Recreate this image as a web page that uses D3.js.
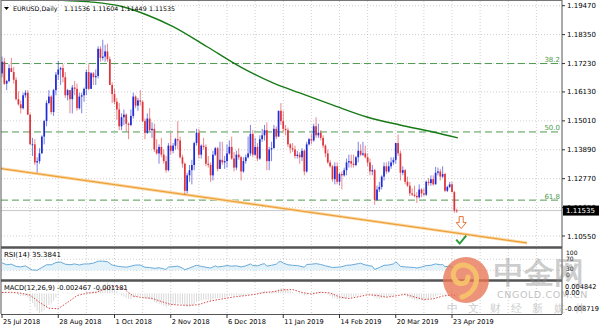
<!DOCTYPE html>
<html><head><meta charset="utf-8">
<script src="https://cdn.jsdelivr.net/npm/d3@7"></script>
<style>body{margin:0;background:#fff}svg{display:block}text{font-family:"DejaVu Sans",sans-serif}</style>
</head><body><svg id="c" width="600" height="327"></svg>
<script>
// ---------- DATA (EURUSD daily, 25 Jul 2018 .. 25 Apr 2019) ----------
const opens=[1.1685,1.1730,1.1645,1.1655,1.1705,1.1690,1.1660,1.1585,1.1565,1.1550,1.1600,1.1610,1.1525,1.1410,1.1410,1.1340,1.1345,1.1375,1.1440,1.1500,1.1570,1.1595,1.1535,1.1620,1.1680,1.1700,1.1705,1.1670,1.1600,1.1620,1.1585,1.1630,1.1625,1.1550,1.1595,1.1600,1.1625,1.1690,1.1625,1.1685,1.1670,1.1675,1.1780,1.1745,1.1750,1.1770,1.1740,1.1640,1.1605,1.1575,1.1545,1.1480,1.1515,1.1525,1.1490,1.1485,1.1520,1.1595,1.1560,1.1580,1.1575,1.1500,1.1455,1.1510,1.1465,1.1470,1.1390,1.1375,1.1400,1.1370,1.1345,1.1310,1.1405,1.1385,1.1405,1.1430,1.1425,1.1360,1.1335,1.1230,1.1290,1.1310,1.1330,1.1415,1.1455,1.1370,1.1405,1.1400,1.1335,1.1330,1.1290,1.1370,1.1395,1.1315,1.1350,1.1340,1.1345,1.1375,1.1400,1.1355,1.1320,1.1370,1.1360,1.1305,1.1345,1.1360,1.1375,1.1450,1.1370,1.1400,1.1355,1.1430,1.1445,1.1465,1.1345,1.1390,1.1395,1.1470,1.1440,1.1540,1.1500,1.1470,1.1465,1.1410,1.1395,1.1390,1.1365,1.1370,1.1360,1.1385,1.1305,1.1410,1.1430,1.1425,1.1480,1.1445,1.1455,1.1435,1.1405,1.1375,1.1340,1.1325,1.1275,1.1325,1.1265,1.1295,1.1290,1.1310,1.1340,1.1345,1.1335,1.1330,1.1360,1.1385,1.1370,1.1375,1.1360,1.1340,1.1305,1.1310,1.1195,1.1235,1.1245,1.1285,1.1325,1.1305,1.1325,1.1340,1.1350,1.1415,1.1375,1.1300,1.1310,1.1265,1.1250,1.1220,1.1215,1.1210,1.1205,1.1235,1.1220,1.1215,1.1265,1.1260,1.1275,1.1255,1.1300,1.1305,1.1285,1.1295,1.1230,1.1245,1.1255,1.1225,1.11536];
const highs=[1.1750,1.1745,1.1660,1.1720,1.1745,1.1710,1.1670,1.1615,1.1580,1.1610,1.1620,1.1620,1.1530,1.1435,1.1430,1.1360,1.1395,1.1445,1.1505,1.1580,1.1620,1.1600,1.1625,1.1690,1.1733,1.1710,1.1720,1.1690,1.1625,1.1620,1.1640,1.1655,1.1645,1.1610,1.1610,1.1630,1.1700,1.1720,1.1690,1.1690,1.1700,1.1790,1.1790,1.1815,1.1795,1.1800,1.1750,1.1650,1.1625,1.1590,1.1570,1.1530,1.1545,1.1530,1.1495,1.1545,1.1610,1.1600,1.1590,1.1620,1.1580,1.1510,1.1530,1.1550,1.1495,1.1490,1.1430,1.1410,1.1435,1.1390,1.1365,1.1415,1.1455,1.1415,1.1435,1.1500,1.1440,1.1370,1.1340,1.1300,1.1330,1.1350,1.1420,1.1470,1.1470,1.1410,1.1435,1.1410,1.1365,1.1340,1.1385,1.1400,1.1400,1.1420,1.1420,1.1365,1.1410,1.1425,1.1440,1.1380,1.1385,1.1395,1.1365,1.1360,1.1370,1.1440,1.1485,1.1465,1.1435,1.1415,1.1445,1.1470,1.1485,1.1495,1.1400,1.1420,1.1485,1.1480,1.1540,1.1570,1.1540,1.1485,1.1475,1.1415,1.1415,1.1405,1.1385,1.1380,1.1395,1.1390,1.1420,1.1435,1.1450,1.1490,1.1515,1.1490,1.1465,1.1445,1.1410,1.1390,1.1350,1.1330,1.1340,1.1340,1.1300,1.1305,1.1320,1.1355,1.1370,1.1370,1.1370,1.1365,1.1420,1.1410,1.1420,1.1405,1.1375,1.1355,1.1330,1.1315,1.1250,1.1265,1.1290,1.1340,1.1340,1.1345,1.1360,1.1360,1.1415,1.1448,1.1385,1.1325,1.1315,1.1285,1.1265,1.1240,1.1250,1.1225,1.1255,1.1240,1.1240,1.1270,1.1280,1.1290,1.1290,1.1323,1.1320,1.1315,1.1325,1.1300,1.1250,1.1265,1.1265,1.1230,1.11604];
const lows=[1.1670,1.1640,1.1620,1.1650,1.1690,1.1645,1.1580,1.1560,1.1530,1.1545,1.1590,1.1525,1.1410,1.1365,1.1330,1.1301,1.1335,1.1375,1.1410,1.1480,1.1565,1.1525,1.1520,1.1600,1.1660,1.1640,1.1650,1.1590,1.1580,1.1530,1.1530,1.1600,1.1540,1.1545,1.1530,1.1575,1.1600,1.1620,1.1625,1.1640,1.1640,1.1665,1.1730,1.1735,1.1730,1.1730,1.1640,1.1570,1.1565,1.1505,1.1465,1.1465,1.1485,1.1460,1.1430,1.1480,1.1510,1.1550,1.1540,1.1560,1.1495,1.1430,1.1450,1.1460,1.1435,1.1380,1.1370,1.1335,1.1360,1.1335,1.1300,1.1305,1.1370,1.1375,1.1390,1.1390,1.1355,1.1320,1.1215,1.1220,1.1265,1.1255,1.1310,1.1405,1.1355,1.1355,1.1390,1.1325,1.1320,1.1265,1.1270,1.1365,1.1305,1.1315,1.1330,1.1315,1.1320,1.1370,1.1350,1.1305,1.1310,1.1350,1.1270,1.1300,1.1335,1.1355,1.1365,1.1360,1.1365,1.1345,1.1350,1.1420,1.1425,1.1310,1.1310,1.1345,1.1395,1.1430,1.1440,1.1485,1.1455,1.1445,1.1400,1.1375,1.1380,1.1355,1.1355,1.1335,1.1345,1.1290,1.1300,1.1405,1.1410,1.1420,1.1435,1.1435,1.1425,1.1395,1.1360,1.1335,1.1320,1.1265,1.1255,1.1255,1.1250,1.1235,1.1285,1.1290,1.1320,1.1320,1.1320,1.1325,1.1340,1.1365,1.1365,1.1355,1.1325,1.1290,1.1290,1.1176,1.1190,1.1225,1.1235,1.1270,1.1295,1.1300,1.1315,1.1330,1.1335,1.1365,1.1270,1.1290,1.1255,1.1245,1.1210,1.1210,1.1205,1.1183,1.1200,1.1205,1.1210,1.1210,1.1250,1.1250,1.1250,1.1255,1.1290,1.1270,1.1280,1.1225,1.1225,1.1240,1.1225,1.1145,1.11449];
const closes=[1.1730,1.1645,1.1655,1.1705,1.1690,1.1660,1.1585,1.1565,1.1550,1.1600,1.1610,1.1525,1.1410,1.1410,1.1340,1.1345,1.1375,1.1440,1.1500,1.1570,1.1595,1.1535,1.1620,1.1680,1.1700,1.1705,1.1670,1.1600,1.1620,1.1585,1.1630,1.1625,1.1550,1.1595,1.1600,1.1625,1.1690,1.1625,1.1685,1.1670,1.1675,1.1780,1.1745,1.1750,1.1770,1.1740,1.1640,1.1605,1.1575,1.1545,1.1480,1.1515,1.1525,1.1490,1.1485,1.1520,1.1595,1.1560,1.1580,1.1575,1.1500,1.1455,1.1510,1.1465,1.1470,1.1390,1.1375,1.1400,1.1370,1.1345,1.1310,1.1405,1.1385,1.1405,1.1430,1.1425,1.1360,1.1335,1.1230,1.1290,1.1310,1.1330,1.1415,1.1455,1.1370,1.1405,1.1400,1.1335,1.1330,1.1290,1.1370,1.1395,1.1315,1.1350,1.1340,1.1345,1.1375,1.1400,1.1355,1.1320,1.1370,1.1360,1.1305,1.1345,1.1360,1.1375,1.1450,1.1370,1.1400,1.1355,1.1430,1.1445,1.1465,1.1345,1.1390,1.1395,1.1470,1.1440,1.1540,1.1500,1.1470,1.1465,1.1410,1.1395,1.1390,1.1365,1.1370,1.1360,1.1385,1.1305,1.1410,1.1430,1.1425,1.1480,1.1445,1.1455,1.1435,1.1405,1.1375,1.1340,1.1325,1.1275,1.1325,1.1265,1.1295,1.1290,1.1310,1.1340,1.1345,1.1335,1.1330,1.1360,1.1385,1.1370,1.1375,1.1360,1.1340,1.1305,1.1310,1.1195,1.1235,1.1245,1.1285,1.1325,1.1305,1.1325,1.1340,1.1350,1.1415,1.1375,1.1300,1.1310,1.1265,1.1250,1.1220,1.1215,1.1210,1.1205,1.1235,1.1220,1.1215,1.1265,1.1260,1.1275,1.1255,1.1300,1.1305,1.1285,1.1295,1.1230,1.1245,1.1255,1.1225,1.11536,1.11535];

const priceTicks=[1.19470,1.18350,1.17230,1.16130,1.15010,1.13890,1.12770,1.11650,1.10550];
const priceTickLabels=["1.19470","1.18350","1.17230","1.16130","1.15010","1.13890","1.12770","1.11650","1.10550"];
const dateTickIdx=[0,24,48,72,96,120,144,168,192];
const dateTickLabels=["25 Jul 2018","28 Aug 2018","1 Oct 2018","2 Nov 2018","6 Dec 2018","11 Jan 2019","14 Feb 2019","20 Mar 2019","23 Apr 2019"];
const fibLevels=[1.1723,1.1458,1.1194];
const fibLabels=["38.2","50.0","61.8"];
const ma200=[[15,1.1975],[23.5,1.1969],[37.5,1.1962],[51.6,1.1943],[61.9,1.1911],[73,1.1866],[87.5,1.1788],[101.5,1.1711],[115.6,1.1648],[127,1.1609],[141.2,1.1562],[155.7,1.1516],[169.8,1.1485],[183.9,1.1458],[194.5,1.1435]];
const trendLine=[[-1,1.1317],[224,1.1028]];
const lastPrice=1.11535;
const headerSymbol="EURUSD,Daily";
const headerOHLC=["1.11536","1.11604","1.11449","1.11535"];

const rsiPoints=[[0,57],[2,50],[4,52],[6,44],[8,42],[10,46],[12,35],[13,31],[15,30],[17,40],[19,50],[21,50],[23,58],[25,60],[27,52],[29,50],[31,53],[33,49],[35,53],[37,53],[39,56],[41,63],[43,63],[45,61],[47,49],[49,45],[51,43],[53,41],[55,45],[57,49],[59,49],[61,41],[63,40],[65,37],[67,39],[69,35],[70,33],[71,42],[73,43],[75,45],[77,38],[78,32],[80,38],[82,45],[83,48],[85,44],[87,41],[89,38],[91,46],[92,42],[94,44],[96,47],[98,45],[100,46],[102,42],[104,46],[106,53],[107,47],[109,46],[111,52],[112,54],[113,45],[115,48],[117,52],[118,60],[119,62],[120,56],[122,50],[124,48],[126,47],[129,41],[130,51],[132,52],[134,54],[136,51],[138,46],[140,42],[141,40],[143,41],[145,43],[147,48],[149,49],[152,54],[153,56],[154,52],[156,47],[158,45],[159,33],[161,40],[163,48],[165,49],[167,53],[168,60],[169,54],[170,44],[172,42],[174,41],[176,40],[177,38],[179,42],[181,47],[183,48],[185,53],[187,50],[188,51],[189,43],[191,45],[192,42],[193,33],[194,35.38]];
const rsiLevels=[70,30];
const rsiTickVals=[100,70,30,0];
const rsiTickLabels=["100","70","30","0"];

const macdMain=[0.0008,0.0005,0.0003,0.0004,0.0005,0.0003,-0.0002,-0.0007,-0.0011,-0.0012,-0.0012,-0.0017,-0.0030,-0.0042,-0.0060,-0.0078,-0.0087,-0.0084,-0.0076,-0.0064,-0.0052,-0.0044,-0.0032,-0.0019,-0.0008,0.0000,0.0004,0.0002,0.0003,0.0001,0.0003,0.0004,-0.0001,-0.0002,-0.0002,0.0000,0.0006,0.0005,0.0008,0.0010,0.0012,0.0022,0.0028,0.0036,0.0044,0.0048,0.0041,0.0031,0.0021,0.0010,-0.0003,-0.0010,-0.0014,-0.0020,-0.0024,-0.0025,-0.0018,-0.0016,-0.0013,-0.0011,-0.0016,-0.0022,-0.0023,-0.0027,-0.0030,-0.0037,-0.0043,-0.0046,-0.0050,-0.0055,-0.0060,-0.0056,-0.0054,-0.0051,-0.0047,-0.0044,-0.0046,-0.0049,-0.0058,-0.0060,-0.0059,-0.0056,-0.0047,-0.0038,-0.0035,-0.0031,-0.0028,-0.0029,-0.0030,-0.0032,-0.0027,-0.0022,-0.0022,-0.0020,-0.0019,-0.0018,-0.0015,-0.0011,-0.0011,-0.0012,-0.0010,-0.0009,-0.0012,-0.0011,-0.0009,-0.0007,-0.0001,-0.0001,0.0001,0.0000,0.0004,0.0008,0.0012,0.0007,0.0006,0.0006,0.0011,0.0012,0.0020,0.0023,0.0022,0.0021,0.0015,0.0010,0.0006,0.0001,-0.0002,-0.0004,-0.0004,-0.0010,-0.0006,-0.0002,0.0001,0.0006,0.0007,0.0008,0.0008,0.0006,0.0001,-0.0005,-0.0011,-0.0019,-0.0020,-0.0025,-0.0026,-0.0026,-0.0025,-0.0021,-0.0019,-0.0017,-0.0015,-0.0012,-0.0007,-0.0005,-0.0003,-0.0002,-0.0003,-0.0006,-0.0008,-0.0018,-0.0022,-0.0024,-0.0023,-0.0018,-0.0017,-0.0014,-0.0011,-0.0008,-0.0001,0.0001,-0.0003,-0.0004,-0.0010,-0.0015,-0.0021,-0.0025,-0.0028,-0.0031,-0.0030,-0.0030,-0.0030,-0.0026,-0.0023,-0.0019,-0.0018,-0.0013,-0.0009,-0.0007,-0.0004,-0.0007,-0.0008,-0.0008,-0.0010,-0.0019,-0.002467];
const macdSignal=[[0,0.0004],[4,0.0005],[8,0.0001],[12,-0.0008],[16,-0.0040],[20,-0.0066],[24,-0.0068],[28,-0.0040],[32,-0.0010],[36,0.0001],[40,0.0004],[44,0.0020],[48,0.0032],[52,0.0020],[56,-0.0012],[60,-0.0019],[64,-0.0022],[68,-0.0036],[72,-0.0049],[76,-0.0052],[80,-0.0053],[84,-0.0050],[88,-0.0036],[92,-0.0028],[96,-0.0021],[100,-0.0014],[104,-0.0010],[108,-0.0004],[112,0.0004],[116,0.0008],[120,0.0016],[124,0.0017],[128,0.0004],[132,-0.0003],[136,0.0005],[140,0.0002],[144,-0.0016],[148,-0.0023],[152,-0.0015],[156,-0.0006],[160,-0.0009],[164,-0.0017],[168,-0.0011],[172,-0.0004],[176,-0.0016],[180,-0.0027],[184,-0.0024],[188,-0.0012],[192,-0.0007],[194,-0.001181]];
const macdTickVals=[0.004842,0,-0.008719];
const macdTickLabels=["0.004842","0.00","-0.008719"];

// ---------- LAYOUT ----------
const svg=d3.select("#c");
const L=1,R=562;
const main={t:1,b:246}, rsiP={t:249,b:279}, macdP={t:282,b:314};
const x=d3.scaleLinear().domain([0,192]).range([2,452]);
const y=d3.scaleLinear().domain([1.1055,1.1947]).range([236,5.7]);
const yR=d3.scaleLinear().domain([0,100]).range([278.5,251]);
const yM=d3.scaleLinear().domain([-0.008719,0.004842]).range([313,282.5]);
const idx=d3.range(opens.length);
const gridIdx=d3.range(12,232,12);

const defs=svg.append("defs");
defs.append("clipPath").attr("id","cm").append("rect").attr("x",L).attr("y",main.t).attr("width",R-L).attr("height",main.b-main.t);
defs.append("clipPath").attr("id","cr").append("rect").attr("x",L).attr("y",rsiP.t).attr("width",R-L).attr("height",rsiP.b-rsiP.t);
defs.append("clipPath").attr("id","cmacd").append("rect").attr("x",L).attr("y",macdP.t).attr("width",R-L).attr("height",macdP.b-macdP.t);

const grid="#c4c4c4";
[main,rsiP,macdP].forEach(p=>{
  svg.append("g").selectAll("line").data(gridIdx).join("line")
    .attr("x1",d=>x(d)).attr("x2",d=>x(d)).attr("y1",p.t).attr("y2",p.b)
    .attr("stroke",grid).attr("stroke-width",0.8).attr("stroke-dasharray","1,2");
});
svg.append("g").selectAll("line").data(priceTicks).join("line")
  .attr("x1",L).attr("x2",R).attr("y1",d=>y(d)).attr("y2",d=>y(d))
  .attr("stroke",grid).attr("stroke-width",0.8).attr("stroke-dasharray","1,2");
svg.append("g").selectAll("line").data(rsiLevels).join("line")
  .attr("x1",L).attr("x2",R).attr("y1",d=>yR(d)).attr("y2",d=>yR(d))
  .attr("stroke",grid).attr("stroke-width",0.8).attr("stroke-dasharray","1,2");

// ---------- MAIN PANEL ----------
const gm=svg.append("g").attr("clip-path","url(#cm)");
gm.append("line").attr("x1",L).attr("x2",R).attr("y1",y(lastPrice)).attr("y2",y(lastPrice)).attr("stroke","#c8c8c8").attr("stroke-width",1);
gm.selectAll("line.fib").data(fibLevels).join("line").attr("class","fib")
  .attr("x1",L).attr("x2",R).attr("y1",d=>y(d)).attr("y2",d=>y(d))
  .attr("stroke","#4f9a4f").attr("stroke-width",1).attr("stroke-dasharray","7,4");
svg.selectAll("text.fib").data(fibLevels).join("text").attr("class","fib")
  .attr("x",560).attr("y",d=>y(d)-1.5).attr("text-anchor","end")
  .attr("font-size",7).attr("fill","#4f9a4f").text((d,i)=>fibLabels[i]);
const tl=d3.line().x(d=>x(d[0])).y(d=>y(d[1]));
gm.append("path").attr("d",tl(trendLine)).attr("stroke","#fbd9a6").attr("stroke-width",3).attr("fill","none");
gm.append("path").attr("d",tl(trendLine)).attr("stroke","#eda03a").attr("stroke-width",1.3).attr("fill","none");
gm.append("path").attr("d",d3.line().x(d=>x(d[0])).y(d=>y(d[1])).curve(d3.curveMonotoneX)(ma200))
  .attr("stroke","#167a16").attr("stroke-width",1.4).attr("fill","none");
const bull="#1f2bd6", bear="#e0343c";
const col=i=>closes[i]>=opens[i]?bull:bear;
gm.append("g").selectAll("line").data(idx).join("line")
  .attr("x1",i=>x(i)).attr("x2",i=>x(i)).attr("y1",i=>y(highs[i])).attr("y2",i=>y(lows[i]))
  .attr("stroke",col).attr("stroke-opacity",0.65).attr("stroke-width",0.9);
gm.append("g").selectAll("rect").data(idx).join("rect")
  .attr("x",i=>x(i)-0.85).attr("width",1.7)
  .attr("y",i=>y(Math.max(opens[i],closes[i])))
  .attr("height",i=>Math.max(0.8,Math.abs(y(opens[i])-y(closes[i]))))
  .attr("fill",col);
const ax=x(194)+4.5, ay=y(lastPrice)+6;
svg.append("path").attr("d",`M${ax-2},${ay} h4 v6 h3 l-5,6 l-5,-6 h3 z`).attr("fill","#fff").attr("stroke","#e8743a").attr("stroke-width",1);
svg.append("path").attr("d",`M${ax-5},${ay+23} l3.5,4 l6.5,-8`).attr("fill","none").attr("stroke","#2a9a3a").attr("stroke-width",2);

// header
svg.append("path").attr("d","M4,7 h5 l-2.5,3 z").attr("fill","#000");
svg.append("text").attr("x",13).attr("y",10.5).attr("font-size",6.3).attr("fill","#000").text(headerSymbol);
svg.append("g").selectAll("text").data(headerOHLC).join("text")
  .attr("x",(d,i)=>64+i*28.3).attr("y",10.5).attr("font-size",6.3).attr("fill","#000").text(d=>d);

// ---------- RSI ----------
const gr=svg.append("g").attr("clip-path","url(#cr)");
gr.append("path").attr("d",d3.area().x(d=>x(d[0])).y0(yR(30)).y1(d=>yR(d[1]))(rsiPoints)).attr("fill","#dcedf8").attr("opacity",0.8);
gr.append("path").attr("d",d3.line().x(d=>x(d[0])).y(d=>yR(d[1]))(rsiPoints)).attr("stroke","#6aaad8").attr("stroke-width",1).attr("fill","none");
svg.append("text").attr("x",4).attr("y",257).attr("font-size",7).text("RSI(14) 35.3841");

// ---------- MACD ----------
const gmc=svg.append("g").attr("clip-path","url(#cmacd)");
gmc.append("g").selectAll("line").data(idx).join("line")
  .attr("x1",i=>x(i)).attr("x2",i=>x(i)).attr("y1",yM(0)).attr("y2",i=>yM(macdMain[i]))
  .attr("stroke","#cfcfcf").attr("stroke-width",0.8);
gmc.append("path").attr("d",d3.line().x(d=>x(d[0])).y(d=>yM(d[1]))(macdSignal)).attr("stroke","#d84848").attr("stroke-width",1).attr("stroke-dasharray","1.5,1.5").attr("fill","none");
svg.append("text").attr("x",4).attr("y",290).attr("font-size",6.7).text("MACD(12,26,9) -0.002467 -0.001181");

// ---------- FRAMES ----------
svg.append("line").attr("x1",R).attr("x2",R).attr("y1",0).attr("y2",macdP.b).attr("stroke","#555").attr("stroke-width",1);
svg.append("line").attr("x1",L).attr("x2",L).attr("y1",0).attr("y2",macdP.b).attr("stroke","#555").attr("stroke-width",1);
svg.append("line").attr("x1",L).attr("x2",R).attr("y1",0.5).attr("y2",0.5).attr("stroke","#777").attr("stroke-width",1);
[247.5,280.5].forEach(v=>svg.append("line").attr("x1",L).attr("x2",R).attr("y1",v).attr("y2",v).attr("stroke","#555").attr("stroke-width",2.5));
svg.append("line").attr("x1",L).attr("x2",R).attr("y1",macdP.b+0.5).attr("y2",macdP.b+0.5).attr("stroke","#555").attr("stroke-width",1);

svg.append("g").selectAll("line").data(priceTicks).join("line").attr("x1",R).attr("x2",R+3).attr("y1",d=>y(d)).attr("y2",d=>y(d)).attr("stroke","#333");
svg.append("g").selectAll("text").data(priceTicks).join("text").attr("x",567).attr("y",d=>y(d)+2.5).attr("font-size",7).text((d,i)=>priceTickLabels[i]);
svg.append("rect").attr("x",R+1).attr("y",y(lastPrice)-5).attr("width",36).attr("height",10).attr("fill","#000");
svg.append("text").attr("x",566).attr("y",y(lastPrice)+2.5).attr("font-size",7).attr("fill","#fff").text(lastPrice.toFixed(5));
svg.append("g").selectAll("text").data(rsiTickVals).join("text").attr("x",566).attr("y",(d,i)=>[255,260.5,270.5,276.5][i]).attr("font-size",6).text((d,i)=>rsiTickLabels[i]);
svg.append("g").selectAll("text").data(macdTickVals).join("text").attr("x",565).attr("y",(d,i)=>[288.5,294.5,311][i]).attr("font-size",6.6).text((d,i)=>macdTickLabels[i]);
svg.append("g").selectAll("line").data(dateTickIdx).join("line").attr("x1",d=>x(d)).attr("x2",d=>x(d)).attr("y1",macdP.b).attr("y2",macdP.b+4).attr("stroke","#333");
svg.append("g").selectAll("text").data(dateTickIdx).join("text").attr("x",d=>x(d)+1).attr("y",324).attr("font-size",6.6).text((d,i)=>dateTickLabels[i]);

// ---------- WATERMARK ----------
const wm=svg.append("g");
wm.append("circle").attr("cx",466).attr("cy",280).attr("r",23).attr("fill","#e87555").attr("opacity",0.78);
wm.append("path").attr("d","M462,297 C478,292 482,272 468,266 C457,262 450,272 455,280 C459,286 468,284 468,277").attr("fill","none").attr("stroke","#f6c46a").attr("stroke-width",5).attr("stroke-linecap","round").attr("opacity",0.9);
wm.append("text").attr("x",494).attr("y",283).attr("font-size",30).attr("font-weight","bold").attr("font-family","Noto Sans CJK SC").attr("fill","#8a8a8a").attr("opacity",0.42).text("中金网");
wm.append("text").attr("x",497).attr("y",298).attr("font-size",9.5).attr("fill","#999").attr("opacity",0.6).attr("letter-spacing",0.6).text("CNGOLD.COM.CN");
const sub=["中","文","财","经","新","媒","体"];
wm.selectAll("text.s").data(sub).join("text").attr("class","s").attr("x",(d,i)=>447+i*21.3).attr("y",312).attr("font-size",11).attr("font-family","Noto Sans CJK SC").attr("fill","#9a9a9a").attr("opacity",0.5).text(d=>d);
</script></body></html>
